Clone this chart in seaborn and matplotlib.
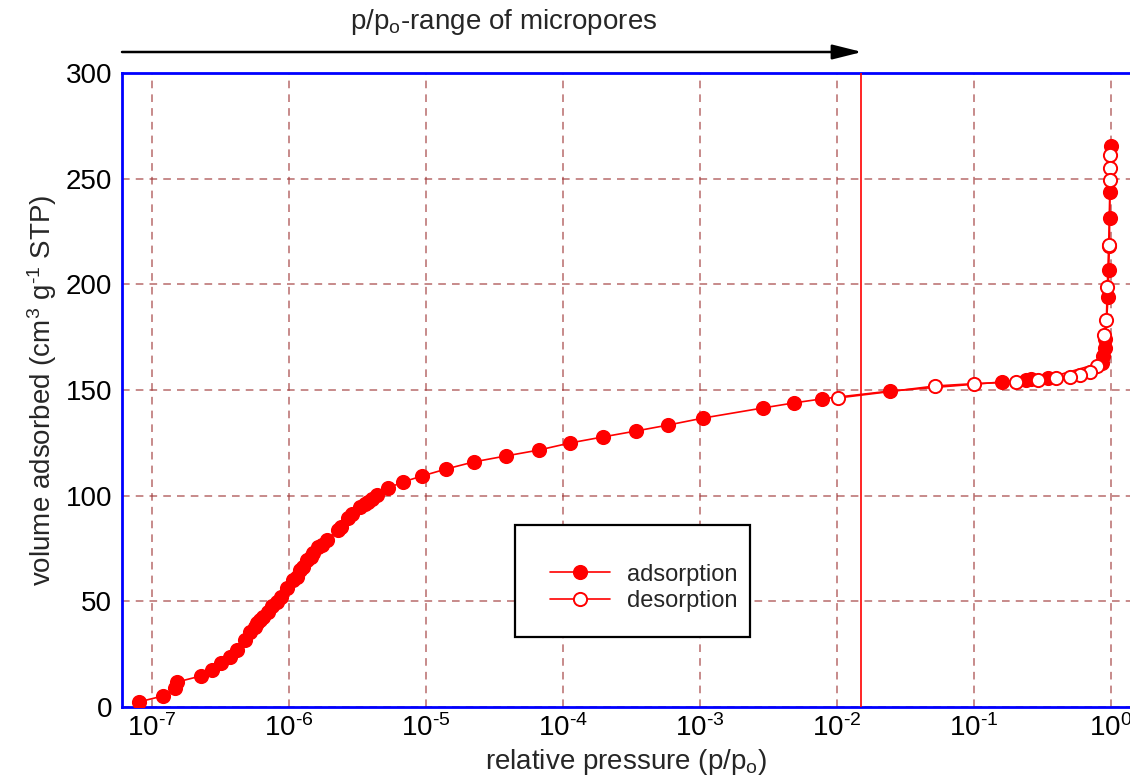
import numpy as np
import pandas as pd
import matplotlib
matplotlib.use("Agg")
import matplotlib.pyplot as plt
import seaborn as sns
from matplotlib.patches import Rectangle
from matplotlib.lines import Line2D
from matplotlib.ticker import FixedLocator, FixedFormatter, MultipleLocator, NullFormatter

# ---------------- data ----------------
ads_p = [8.0e-8, 1.2e-7, 1.48e-7, 1.52e-7, 2.28e-7, 2.74e-7, 3.19e-7, 3.71e-7, 4.17e-7,
         4.77e-7, 5.19e-7, 5.65e-7, 5.83e-7, 6.14e-7, 6.46e-7, 7.03e-7, 7.51e-7, 8.17e-7,
         8.74e-7, 9.66e-7, 1.07e-6, 1.14e-6, 1.20e-6, 1.26e-6, 1.35e-6, 1.45e-6, 1.50e-6,
         1.63e-6, 1.74e-6, 1.89e-6, 2.28e-6, 2.40e-6, 2.70e-6, 2.88e-6, 3.30e-6, 3.59e-6,
         3.77e-6, 4.04e-6, 4.39e-6,
         5.28e-6, 6.80e-6, 9.35e-6, 1.40e-5, 2.24e-5, 3.84e-5, 6.68e-5, 1.12e-4, 1.96e-4,
         3.41e-4, 5.84e-4, 1.05e-3, 2.88e-3, 4.86e-3, 7.78e-3, 0.0244, 0.16, 0.24, 0.26,
         0.347, 0.86, 0.88, 0.90, 0.91, 0.952, 0.962, 0.973, 0.978, 0.984, 0.995]
ads_v = [2.4, 5.2, 8.8, 11.8, 14.7, 17.5, 20.8, 23.7, 27.0,
         31.7, 35.5, 37.9, 39.8, 41.2, 42.6, 45.0, 47.8, 49.7,
         52.1, 56.3, 60.1, 61.5, 64.8, 66.3, 69.6, 71.0, 72.9,
         75.7, 76.7, 79.0, 83.8, 85.2, 89.4, 91.3, 94.6, 96.1,
         97.0, 98.4, 100.3,
         103.6, 106.5, 109.3, 112.6, 116.0, 118.8, 121.6, 124.9, 127.8,
         130.6, 133.4, 136.7, 141.5, 143.9, 145.8, 149.5, 153.8, 154.8, 155.0,
         155.7, 163.0, 166.0, 170.0, 174.0, 194.0, 206.8, 218.0, 231.4, 243.7, 265.5]

des_p = [0.989, 0.984, 0.984, 0.962, 0.94, 0.925, 0.894, 0.787, 0.70, 0.59, 0.50,
         0.40, 0.293, 0.203, 0.10, 0.052, 0.0101]
des_v = [261.2, 255.1, 249.4, 218.5, 198.8, 183.2, 176.0, 161.3, 158.5, 157.1, 156.2,
         155.5, 154.8, 153.8, 153.0, 151.9, 146.2]

micropore_limit = 0.015
decade_exps = [-7, -6, -5, -4, -3, -2, -1, 0]
x_tick_labels = ["10$^{\u2010" + str(-e) + "}$" if e < 0 else "10$^{" + str(e) + "}$"
                 for e in decade_exps]
series_labels = ["adsorption", "desorption"]
xlabel = "relative pressure (p/p$_o$)"
ylabel = "volume adsorbed (cm$^3$ g$^{\u20101}$ STP)"
top_note = "p/p$_o$-range of micropores"

# ---------------- style ----------------
sns.set_style("white")
plt.rcParams["font.family"] = ["Liberation Sans", "DejaVu Sans"]
plt.rcParams["mathtext.fontset"] = "custom"
plt.rcParams["mathtext.rm"] = "Liberation Sans"
plt.rcParams["mathtext.it"] = "Liberation Sans:italic"
plt.rcParams["mathtext.bf"] = "Liberation Sans:bold"
plt.rcParams["mathtext.default"] = "regular"

W, H = 1130, 778
fig = plt.figure(figsize=(W / 100, H / 100), dpi=100)
L, R, B, T = 122, 1130, 707, 73
ax = fig.add_axes([L / W, 1 - B / H, (R - L) / W, (B - T) / H])
ax.set_xscale("log")

FS = 20
LFS = 17
RED = "#ff0000"
line_kw = dict(color=RED, lw=1.2, marker="o", ms=9.5, mew=1.4, zorder=4)

ads = pd.DataFrame({"p": ads_p, "v": ads_v})
des = pd.DataFrame({"p": des_p, "v": des_v})
sns.lineplot(data=ads, x="p", y="v", ax=ax, sort=False, estimator=None,
             mfc=RED, mec=RED, legend=False, **line_kw)
sns.lineplot(data=des, x="p", y="v", ax=ax, sort=False, estimator=None,
             mfc="white", mec=RED, legend=False, **line_kw)

ax.axvline(micropore_limit, color=RED, lw=1.2, zorder=3)

xl = (10 ** ((L - 152) / 137 - 7), 10 ** ((R - 152) / 137 - 7))
ax.set_xlim(*xl)
ax.set_ylim(0, 300)

major_x = [10.0 ** e for e in decade_exps]
minor_x = [m * 10.0 ** e for e in range(-8, 1) for m in range(2, 10)
           if xl[0] < m * 10.0 ** e < xl[1]]
ax.xaxis.set_major_locator(FixedLocator(major_x))
ax.xaxis.set_major_formatter(FixedFormatter(x_tick_labels))
ax.xaxis.set_minor_locator(FixedLocator(minor_x))
ax.xaxis.set_minor_formatter(NullFormatter())
ax.yaxis.set_major_locator(MultipleLocator(50))
ax.yaxis.set_minor_locator(MultipleLocator(25))

ax.grid(True, which="major", color="#a03a3a", alpha=0.75, linestyle=(0, (5, 4)), lw=1.1)
ax.tick_params(which="major", length=0, labelsize=FS, pad=7, colors="black")
ax.tick_params(which="minor", direction="in", length=6, width=1, color="#ff3030")
ax.tick_params(axis="x", which="major", pad=5)

for s in ["left", "top", "bottom"]:
    ax.spines[s].set_color("#0000ff")
    ax.spines[s].set_linewidth(2)
ax.spines["right"].set_visible(False)

ax.set_xlabel(xlabel, fontsize=FS, labelpad=4)
ax.set_ylabel(ylabel, fontsize=FS, labelpad=5)

# arrow and note above the plot
arr_y = (B - 52) / (B - T)
ax.annotate("", xy=(10 ** ((862 - 152) / 137 - 7), arr_y), xytext=(xl[0], arr_y),
            xycoords=ax.get_xaxis_transform(), textcoords=ax.get_xaxis_transform(),
            arrowprops=dict(arrowstyle="-|>,head_length=1.2,head_width=0.3",
                            color="black", lw=1.8, mutation_scale=15,
                            shrinkA=0, shrinkB=0),
            annotation_clip=False)
fig.text(504 / W, 1 - 22 / H, top_note, ha="center", va="center", fontsize=FS)

# legend box
fig.patches.append(Rectangle((515 / W, 1 - 637 / H), 235 / W, 112 / H,
                             transform=fig.transFigure, facecolor="white",
                             edgecolor="black", lw=1.6, zorder=2))
handles = [Line2D([], [], mfc=RED, mec=RED, **line_kw),
           Line2D([], [], mfc="white", mec=RED, **line_kw)]
fig.legend(handles, series_labels, loc="center left",
           bbox_to_anchor=(550 / W, 1 - 588 / H), frameon=False, fontsize=LFS,
           borderpad=0, borderaxespad=0, handlelength=60 / 23.6,
           handletextpad=17 / 23.6, labelspacing=0.2)

fig.savefig("out.png", dpi=100)
